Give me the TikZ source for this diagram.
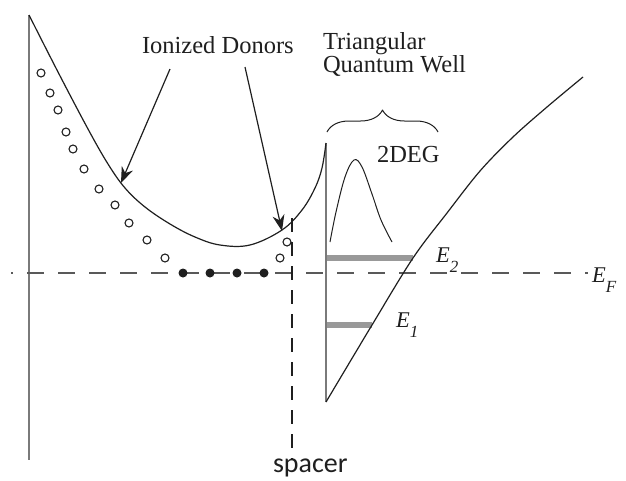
\documentclass[tikz,border=0pt]{standalone}
\usepackage{fontspec}
\setmainfont{Liberation Serif}
\newfontfamily\labelsans{Carlito}
\usetikzlibrary{arrows.meta,decorations.pathreplacing}
\definecolor{BandInk}{gray}{0.12}
\definecolor{BandAxis}{gray}{0.48}
\definecolor{BandLevel}{gray}{0.60}
\definecolor{BandDash}{gray}{0.35}
\newcommand{\levelname}[2]{\textit{#1}\raisebox{-10pt}{\fontsize{17}{17}\selectfont\textit{#2}}}
\tikzset{
    band/diagram/.style={
        x=1pt, y=-1pt,
        font=\fontsize{24.5}{23}\selectfont,
        text=BandInk,
        line join=round,
        every node/.style={inner sep=0pt, outer sep=0pt}
    },
    band/edge/.style={draw=BandInk, line width=1.2pt},
    band/axis/.style={draw=BandAxis, line width=1.9pt},
    band/level/.style={draw=BandLevel, line width=5.5pt},
    band/fermi/.style={
        draw=BandDash, line width=1.5pt,
        dash pattern=on 17pt off 14pt, dash phase=15pt
    },
    band/spacerline/.style={
        draw=BandInk, line width=1.2pt,
        dash pattern=on 14pt off 10pt
    },
    band/pointer/.style={
        draw=BandInk, line width=1.2pt,
        -{Stealth[length=16pt, width=12pt]}
    },
    band/brace/.style={
        draw=BandInk, line width=1pt, decorate,
        decoration={brace, amplitude=22pt, aspect=0.5}
    },
    band/ion/.style={circle, draw=BandInk, line width=1.1pt, minimum size=8pt},
    band/electron/.style={circle, fill=BandInk, minimum size=9pt},
    band/label/.style={anchor=base west},
    band/energy/.style={anchor=base west, font=\fontsize{22.5}{22.5}\selectfont}
}
\begin{document}
\begin{tikzpicture}[band/diagram]
    \useasboundingbox (0,0) rectangle (626,480);
    % left edge and well wall
    \coordinate (axtop) at (29,15);
    \coordinate (axbot) at (29,460);
    \coordinate (welltop) at (326,143);
    \coordinate (wellbot) at (326,402);
    \draw[band/axis] (axtop) -- (axbot);
    % subband levels
    \coordinate (lvtwo) at (413,258);
    \coordinate (lvone) at (372,325);
    \draw[band/level] (welltop |- lvtwo) -- (lvtwo);
    \draw[band/level] (welltop |- lvone) -- (lvone);
    \draw[band/axis] (welltop) -- (wellbot);
    % Fermi level
    \coordinate (fleft) at (11,273);
    \coordinate (fright) at (588,273);
    \draw[band/fermi] (fleft) -- (fright);
    % conduction band
    \draw[band/edge] plot[smooth, tension=0.6] coordinates {
        (axtop) (58,72) (88,129) (108,164) (125,188) (145,207) (170,224)
        (195,237) (220,245) (250,245) (282,230) (302,210) (315,188) (322,168) (welltop)};
    \draw[band/edge] plot[smooth, tension=0.55] coordinates {
        (wellbot) (lvone) (lvtwo) (447,213) (480,171) (513,137) (547,107) (583,77)};
    % 2DEG wave function
    \draw[band/edge, line width=1pt] plot[smooth, tension=0.6] coordinates {
        (330,242) (336,212) (345,177) (354,160) (362,167) (372,194) (381,220) (392,242)};
    % ionized donors and electrons
    \foreach \x/\y [count=\i] in {41/73, 50/93, 58/110, 66/132, 73/149, 84/169,
                                  99/189, 115/205, 129/223, 147/240, 165/258,
                                  280/258, 287/242}
        \node[band/ion] (ion\i) at (\x,\y) {};
    \foreach \x [count=\i] in {183,210,237,264}
        \node[band/electron] (el\i) at (\x,273) {};
    % labels
    \node[band/label] (donors) at (142,53) {Ionized Donors};
    \coordinate (ionA) at (121,183);
    \coordinate (ionB) at (282,231);
    \draw[band/pointer] ([xshift=28pt, yshift=-16pt]donors.base west) -- (ionA);
    \draw[band/pointer] ([xshift=103pt, yshift=-14pt]donors.base west) -- (ionB);
    \node[band/label, align=left] (well) at (323,72) {Triangular\\Quantum Well};
    \draw[band/brace] (327,132) -- (438,132);
    \node[band/label] (deg) at (377,162) {2DEG};
    \node[band/energy] (etwo) at (436,262) {\levelname{E}{2}};
    \node[band/energy] (eone) at (396,327) {\levelname{E}{1}};
    \node[band/energy] (efermi) at (592,282) {\levelname{E}{F}};
    % spacer
    \node[anchor=base west, font=\labelsans\fontsize{28}{28}\selectfont] (spacer) at (273,472) {spacer};
    \coordinate (sptop) at (292,218);
    \draw[band/spacerline] (sptop) -- (sptop |- spacer.north);
\end{tikzpicture}
\end{document}
